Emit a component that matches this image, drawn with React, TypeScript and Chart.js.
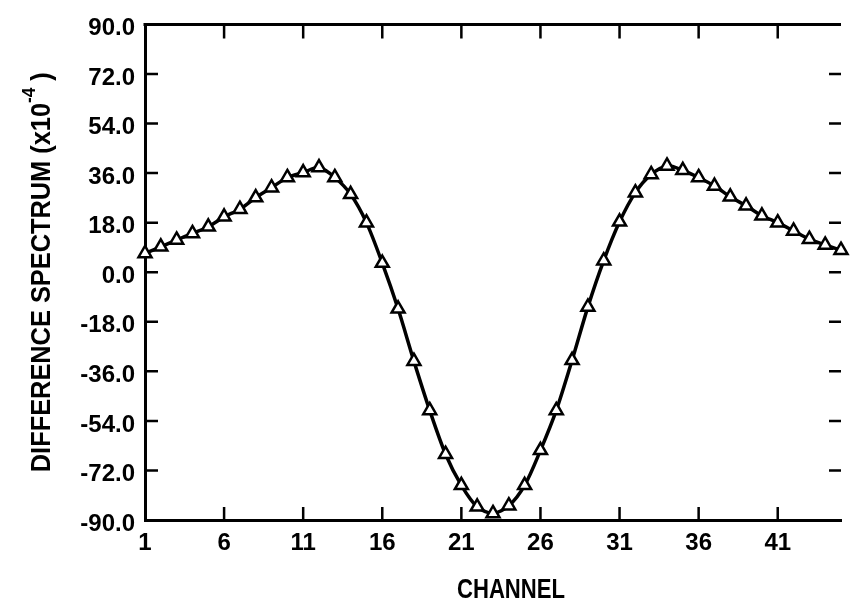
import React, { useEffect, useRef } from "react";
import { Chart, registerables } from "chart.js";

Chart.register(...registerables);

const channels = [
  1, 2, 3, 4, 5, 6, 7, 8, 9, 10, 11, 12, 13, 14, 15, 16, 17, 18, 19, 20, 21, 22, 23,
  24, 25, 26, 27, 28, 29, 30, 31, 32, 33, 34, 35, 36, 37, 38, 39, 40, 41, 42, 43, 44, 45,
];
const differenceValues = [
  6.8, 9.2, 11.7, 14.1, 16.5, 20.1, 22.9, 27.1, 30.7, 34.4, 36.2, 38.0, 34.4, 28.3, 18.0,
  3.3, -13.3, -32.3, -50.2, -66.1, -77.4, -85.2, -87.6, -84.8, -77.4, -64.7, -50.2, -32.0,
  -12.6, 4.2, 18.3, 28.9, 35.5, 38.6, 37.0, 34.4, 31.3, 27.4, 24.1, 20.5, 18.0, 15.0, 12.0,
  9.9, 8.0,
];
const xTickValues = [1, 6, 11, 16, 21, 26, 31, 36, 41];
const yTickValues = [-90, -72, -54, -36, -18, 0, 18, 36, 54, 72, 90];
const xMin = 1;
const xMax = 45;
const yMin = -90;
const yMax = 90;
const xTitle = "CHANNEL";
const yTitleMain = "DIFFERENCE SPECTRUM (x10";
const yTitleSup = "-4";
const yTitleEnd = " )";

const TICK_FONT = "'Liberation Sans', Arial, sans-serif";
const TITLE_FONT = "'Liberation Sans', Arial, sans-serif";

const framePlugin = {
  id: "frameTicks",
  beforeDatasetsDraw(chart: any) {
    const { ctx, chartArea, scales } = chart;
    const { left, right, top, bottom } = chartArea;
    const x = scales.x;
    const y = scales.y;
    ctx.save();
    ctx.strokeStyle = "#000";
    ctx.lineWidth = 2.5;
    ctx.beginPath();
    for (const v of xTickValues) {
      if (v === xMin) continue;
      const px = x.getPixelForValue(v);
      ctx.moveTo(px, top);
      ctx.lineTo(px, top + 14);
      ctx.moveTo(px, bottom);
      ctx.lineTo(px, bottom - 13);
    }
    for (const v of yTickValues) {
      if (v === yMin || v === yMax) continue;
      const py = y.getPixelForValue(v);
      ctx.moveTo(left, py);
      ctx.lineTo(left + 13, py);
      ctx.moveTo(right, py);
      ctx.lineTo(right - 12, py);
    }
    ctx.stroke();
    ctx.lineWidth = 3;
    ctx.beginPath();
    ctx.moveTo(left - 1.5, top);
    ctx.lineTo(right, top);
    ctx.stroke();
    ctx.restore();
  },
  afterDraw(chart: any) {
    const { ctx, chartArea } = chart;
    ctx.save();
    ctx.fillStyle = "#000";
    ctx.textBaseline = "middle";

    // x title (condensed)
    ctx.font = `bold 28px ${TITLE_FONT}`;
    const xw = ctx.measureText(xTitle).width;
    const xs = 108 / xw;
    ctx.save();
    ctx.translate((chartArea.left + chartArea.right) / 2 + 18, 590);
    ctx.scale(xs, 1);
    ctx.textAlign = "center";
    ctx.fillText(xTitle, 0, 0);
    ctx.restore();

    // y title (rotated, condensed, with superscript)
    ctx.font = `bold 28px ${TITLE_FONT}`;
    const wMain = ctx.measureText(yTitleMain).width;
    const wEnd = ctx.measureText(yTitleEnd).width;
    ctx.font = `bold 19px ${TITLE_FONT}`;
    const wSup = ctx.measureText(yTitleSup).width;
    const total = wMain + wSup + wEnd;
    const ys = 400 / total;
    ctx.save();
    ctx.translate(42, (chartArea.top + chartArea.bottom) / 2);
    ctx.rotate(-Math.PI / 2);
    ctx.scale(ys, 1);
    ctx.textAlign = "left";
    let cx = -total / 2;
    ctx.font = `bold 28px ${TITLE_FONT}`;
    ctx.fillText(yTitleMain, cx, 0);
    cx += wMain;
    ctx.font = `bold 19px ${TITLE_FONT}`;
    ctx.fillText(yTitleSup, cx, -12);
    cx += wSup;
    ctx.font = `bold 28px ${TITLE_FONT}`;
    ctx.fillText(yTitleEnd, cx, 0);
    ctx.restore();

    ctx.restore();
  },
};

export default function App() {
  const canvasRef = useRef<HTMLCanvasElement | null>(null);

  useEffect(() => {
    if (!canvasRef.current) return;
    const chart = new Chart(canvasRef.current, {
      type: "line",
      data: {
        datasets: [
          {
            data: channels.map((c, i) => ({ x: c, y: differenceValues[i] })),
            borderColor: "#000",
            borderWidth: 3.5,
            tension: 0.3,
            pointStyle: "triangle",
            pointRadius: 7.5,
            pointBorderWidth: 2.5,
            pointBackgroundColor: "#fff",
            pointBorderColor: "#000",
            clip: false as any,
          },
        ],
      },
      options: {
        animation: false,
        responsive: false,
        devicePixelRatio: 1,
        layout: { padding: { top: 23, left: 0, right: 0, bottom: 0 } },
        plugins: {
          legend: { display: false },
          tooltip: { enabled: false },
        },
        scales: {
          x: {
            type: "linear",
            min: xMin,
            max: xMax,
            grid: { display: false, drawTicks: false },
            border: { display: true, width: 3, color: "#000" },
            afterBuildTicks: (scale: any) => {
              scale.ticks = xTickValues.map((v) => ({ value: v }));
            },
            afterFit: (scale: any) => {
              scale.height = 85;
            },
            ticks: {
              color: "#000",
              padding: 9,
              maxRotation: 0,
              autoSkip: false,
              font: { family: TICK_FONT, size: 24, weight: "bold" },
              callback: (v: any) => String(v),
            },
          },
          y: {
            type: "linear",
            min: yMin,
            max: yMax,
            grid: { display: false, drawTicks: false },
            border: { display: true, width: 3, color: "#000" },
            afterBuildTicks: (scale: any) => {
              scale.ticks = yTickValues.map((v) => ({ value: v }));
            },
            afterFit: (scale: any) => {
              scale.width = 145;
            },
            ticks: {
              color: "#000",
              padding: 10,
              labelOffset: 4,
              autoSkip: false,
              font: { family: TICK_FONT, size: 24, weight: "bold" },
              callback: (v: any) => Number(v).toFixed(1),
            },
          },
        },
      },
      plugins: [framePlugin],
    });
    return () => chart.destroy();
  }, []);

  return (
    <div style={{ position: "absolute", left: 0, top: 0, width: 851, height: 605, background: "#fff" }}>
      <canvas ref={canvasRef} width={851} height={605} style={{ display: "block" }} />
    </div>
  );
}
